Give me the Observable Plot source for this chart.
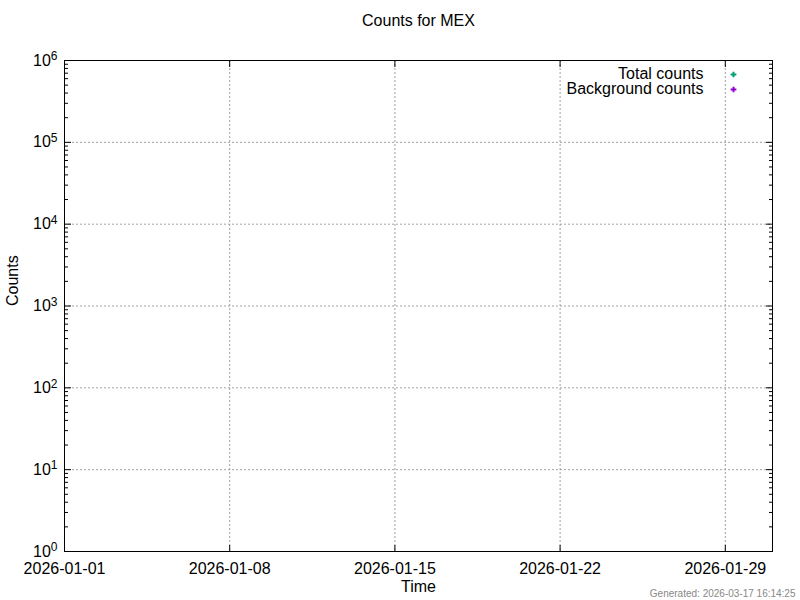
<!DOCTYPE html>
<html>
<head>
<meta charset="utf-8">
<script src="https://cdn.jsdelivr.net/npm/d3@7"></script>
<script src="https://cdn.jsdelivr.net/npm/@observablehq/plot@0.6"></script>
<style>
  html, body { margin: 0; padding: 0; background: white; }
  #chart svg { display: block; }
</style>
</head>
<body>
<div id="chart"></div>
<script>
// ---- Data (the reference chart has no data points) ----
const chartTitle = "Counts for MEX";
const xLabel = "Time";
const yLabel = "Counts";
const generatedText = "Generated: 2026-03-17 16:14:25";

const xDomainDates = ["2026-01-01", "2026-01-31"];
const xTickDates = ["2026-01-01", "2026-01-08", "2026-01-15", "2026-01-22", "2026-01-29"];
const yTickExponents = [0, 1, 2, 3, 4, 5, 6];
const yMinorMultipliers = [2, 3, 4, 5, 6, 7, 8, 9];

const seriesNames = ["Total counts", "Background counts"];
const seriesColors = ["#009e73", "#9400d3"];

const totalTimes = [];
const totalCounts = [];
const backgroundTimes = [];
const backgroundCounts = [];

// ---- Derived tables ----
const parse = d3.utcParse("%Y-%m-%d");
const xDomain = xDomainDates.map(parse);
const xTicks = xTickDates.map(parse);
const xInnerTicks = xTicks.slice(1);
const yMajor = yTickExponents.map(e => Math.pow(10, e));
const yInner = yMajor.slice(1, -1);
const yMinor = yTickExponents.slice(0, -1).flatMap(e => yMinorMultipliers.map(m => m * Math.pow(10, e)));

const totalData = totalTimes.map((t, i) => ({t: parse(t), c: totalCounts[i]}));
const backgroundData = backgroundTimes.map((t, i) => ({t: parse(t), c: backgroundCounts[i]}));

const font = "'Liberation Sans', Arial, sans-serif";

const plot = Plot.plot({
  width: 800,
  height: 600,
  marginLeft: 64,
  marginRight: 28,
  marginTop: 60,
  marginBottom: 49,
  style: {fontFamily: font, fontSize: "16px", background: "white", color: "black"},
  x: {type: "utc", domain: xDomain, label: null},
  y: {type: "log", domain: [yMajor[0], yMajor[yMajor.length - 1]], label: null},
  marks: [
    Plot.gridY(yInner, {stroke: "#a0a0a0", strokeOpacity: 1, strokeDasharray: "2,2"}),
    Plot.gridX(xInnerTicks, {stroke: "#a0a0a0", strokeOpacity: 1, strokeDasharray: "2,2"}),
    Plot.frame({stroke: "black", strokeWidth: 1}),
    // y axis: labels, major ticks, minor ticks (left and right, inward)
    Plot.axisY({anchor: "left", ticks: yMajor, tickSize: 0, tickPadding: 7, label: null,
      tickFormat: d => `10^${Math.round(Math.log10(d))}`}),
    Plot.axisY({anchor: "left", ticks: yMajor, tickSize: -7, fill: "none", label: null}),
    Plot.axisY({anchor: "right", ticks: yMajor, tickSize: -7, fill: "none", label: null}),
    Plot.axisY({anchor: "left", ticks: yMinor, tickSize: -4, fill: "none", label: null}),
    Plot.axisY({anchor: "right", ticks: yMinor, tickSize: -4, fill: "none", label: null}),
    // x axis
    Plot.axisX({anchor: "bottom", ticks: xTicks, tickSize: 0, tickPadding: 11, label: null,
      tickFormat: d3.utcFormat("%Y-%m-%d")}),
    Plot.axisX({anchor: "bottom", ticks: xTicks, tickSize: -6, fill: "none", label: null}),
    Plot.axisX({anchor: "top", ticks: xTicks, tickSize: -6, fill: "none", label: null}),
    // data
    Plot.dot(totalData, {x: "t", y: "c", symbol: "plus", r: 2, strokeWidth: 2, stroke: seriesColors[0]}),
    Plot.dot(backgroundData, {x: "t", y: "c", symbol: "plus", r: 2, strokeWidth: 2, stroke: seriesColors[1]}),
    // legend
    Plot.text([seriesNames[0]], {text: d => d, frameAnchor: "top-right", dx: -69, dy: 13, textAnchor: "end", lineAnchor: "middle", fontSize: 16}),
    Plot.text([seriesNames[1]], {text: d => d, frameAnchor: "top-right", dx: -69, dy: 28, textAnchor: "end", lineAnchor: "middle", fontSize: 16}),
    Plot.dot([seriesNames[0]], {frameAnchor: "top-right", dx: -39, dy: 14, symbol: "plus", r: 2, strokeWidth: 2, stroke: seriesColors[0]}),
    Plot.dot([seriesNames[1]], {frameAnchor: "top-right", dx: -39, dy: 29, symbol: "plus", r: 2, strokeWidth: 2, stroke: seriesColors[1]}),
    // titles
    Plot.text([chartTitle], {text: d => d, frameAnchor: "top", dy: -40, lineAnchor: "middle", fontSize: 16}),
    Plot.text([xLabel], {text: d => d, frameAnchor: "bottom", dy: 35, lineAnchor: "middle", fontSize: 16}),
    Plot.text([yLabel], {text: d => d, frameAnchor: "left", dx: -52, rotate: -90, lineAnchor: "middle", fontSize: 16}),
    Plot.text([generatedText], {text: d => d, frameAnchor: "bottom-right", dx: 23, dy: 42, textAnchor: "end", lineAnchor: "middle", fontSize: 10, fill: "#888888"})
  ]
});

// Render exponent superscripts on the y tick labels
d3.select(plot).selectAll("text").each(function() {
  const s = this.textContent;
  const m = /^10\^(-?\d+)$/.exec(s);
  if (!m) return;
  const t = d3.select(this);
  t.text(null);
  t.append("tspan").text("10");
  t.append("tspan").attr("dy", "-0.45em").attr("font-size", "12px").text(m[1]);
});

document.getElementById("chart").appendChild(plot);
</script>
</body>
</html>
